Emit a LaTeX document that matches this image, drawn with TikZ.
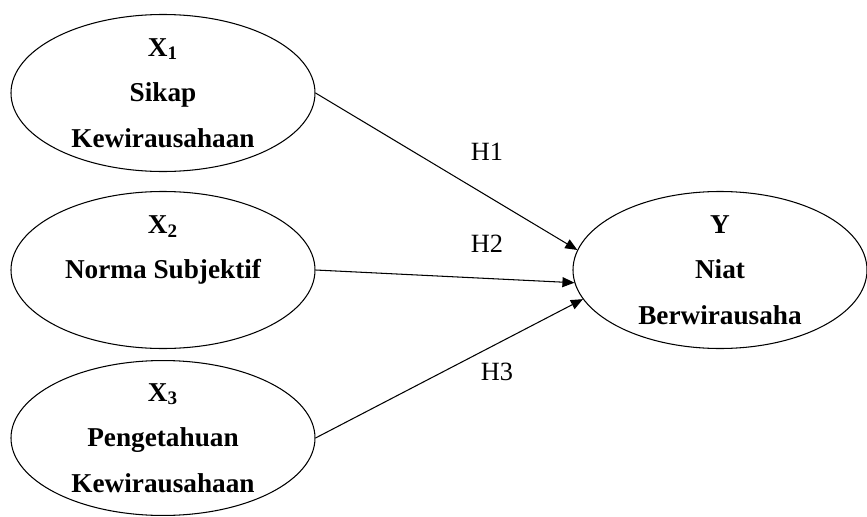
\documentclass[tikz,border=0pt]{standalone}
\usepackage{fontspec}
\setmainfont{Liberation Serif}
\usetikzlibrary{arrows.meta}
\usetikzlibrary{shapes.geometric}
\tikzset{
  varell/.style={
    draw, ellipse, line width=0.6pt, inner sep=0pt, align=center,
    minimum width=6.08cm, minimum height=3.14cm,
    font=\fontsize{15.5}{26}\selectfont\bfseries},
  patharrow/.style={-{Triangle[length=0.24cm, width=0.2cm]}, line width=0.6pt},
  hyplabel/.style={font=\fontsize{15}{18}\selectfont},
}
\begin{document}
\begin{tikzpicture}[x=1cm, y=1cm]
\useasboundingbox (0, 0) rectangle (17.34, 10.32);

% Exogenous constructs.
\node[varell] (sikap) at (3.26, 8.46)
  {X\textsubscript{1}\\Sikap\\Kewirausahaan};
\node[varell] (norma) at (3.26, 4.92)
  {X\textsubscript{2}\\Norma Subjektif\\~};
\node[varell, minimum height=3.0cm] (pengetahuan) at (3.26, 1.56)
  {X\textsubscript{3}\\Pengetahuan\\Kewirausahaan};

% Endogenous construct.
\node[varell, minimum width=5.88cm] (niat) at (14.4, 4.92)
  {Y\\Niat\\Berwirausaha};

% Hypothesised paths.
\draw[patharrow] (sikap.east) -- (niat.172);
\draw[patharrow] (norma.east) -- (niat.185);
\draw[patharrow] (pengetahuan.east) -- (niat.192);

\node[hyplabel] (hone) at (9.74, 7.28) {H1};
\node[hyplabel] (htwo) at (9.74, 5.44) {H2};
\node[hyplabel] (hthree) at (9.94, 2.88) {H3};

\end{tikzpicture}
\end{document}
